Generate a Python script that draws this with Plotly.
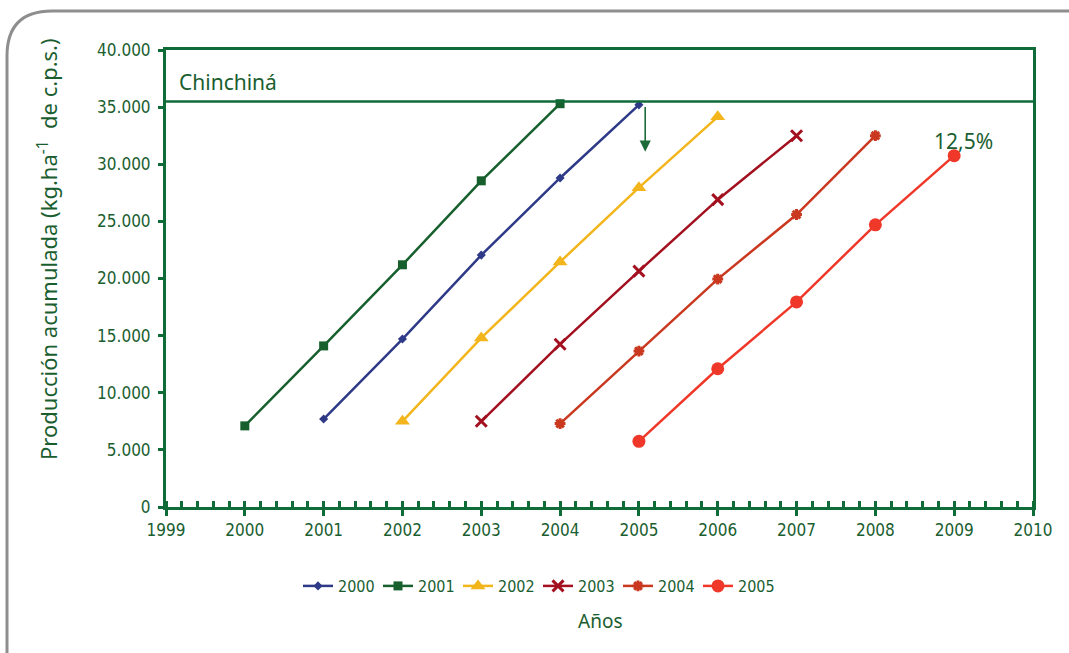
import plotly.graph_objects as go

# ---- data ----
years_x = {
    "2000": [2001, 2002, 2003, 2004, 2005],
    "2001": [2000, 2001, 2002, 2003, 2004],
    "2002": [2002, 2003, 2004, 2005, 2006],
    "2003": [2003, 2004, 2005, 2006, 2007],
    "2004": [2004, 2005, 2006, 2007, 2008],
    "2005": [2005, 2006, 2007, 2008, 2009],
}
s2000 = [7700, 14700, 22050, 28800, 35200]
s2001 = [7100, 14100, 21200, 28550, 35300]
s2002 = [7500, 14800, 21450, 27950, 34150]
s2003 = [7500, 14250, 20650, 26900, 32500]
s2004 = [7300, 13650, 19950, 25600, 32500]
s2005 = [5750, 12100, 17950, 24700, 30750]
series_names = ["2000", "2001", "2002", "2003", "2004", "2005"]
series_vals = [s2000, s2001, s2002, s2003, s2004, s2005]
chinchina_level = 35500
y_ticks = [0, 5000, 10000, 15000, 20000, 25000, 30000, 35000, 40000]
x_ticks = list(range(1999, 2011))

# ---- styles ----
colors = ["#2E3A87", "#17602E", "#F2B51B", "#A3101F", "#C9381F", "#EF3829"]
symbols = ["diamond", "square", "triangle-up", "x-thin-open", "asterisk-open", "circle"]
msizes = [7, 9, 13, 11, 9, 13]
GREEN = "#0F6B38"
TXT = "#1A5E30"
NARROW = "Liberation Sans Narrow, DejaVu Sans Condensed, Arial Narrow, sans-serif"
GEO = "Noto Sans, Lato, sans-serif"

fig = go.Figure()
for name, xs, ys, c, sym, ms in zip(series_names, [years_x[n] for n in series_names],
                                    series_vals, colors, symbols, msizes):
    mk = dict(symbol=sym, size=ms, color=c)
    if sym.endswith("-open"):
        mk["line"] = dict(color=c, width=3)
    fig.add_trace(go.Scatter(x=xs, y=ys, name=name, mode="lines+markers",
                             line=dict(color=c, width=2.5), marker=mk))

W, H = 1069, 653
L, R, T, B = 166, 36, 50, 146
pw, ph = W - L - R, H - T - B

def px(x):
    return (x - L) / pw

def py(y):
    return (H - B - y) / ph

# rounded gray frame
x0, y0 = px(7), py(11)
path = (f"M {x0},{py(700)} L {x0},{py(56)} Q {x0},{y0} {px(52)},{y0} "
        f"L {px(1080)},{y0}")
fig.add_shape(type="path", path=path, xref="paper", yref="paper",
              line=dict(color="#8E8E8E", width=3), layer="below")

# Chinchiná reference line
fig.add_shape(type="line", xref="paper", yref="y", x0=0, x1=1,
              y0=chinchina_level, y1=chinchina_level,
              line=dict(color=GREEN, width=2.5))

fig.add_annotation(text="Chinchiná", xref="paper", yref="paper",
                   x=px(177), y=py(82), xanchor="left", yanchor="middle",
                   showarrow=False, font=dict(family=GEO, size=21, color=TXT))
fig.add_annotation(text="12,5%", xref="x", yref="y", x=2008.72, y=32050,
                   xanchor="left", yanchor="middle", showarrow=False,
                   font=dict(family=GEO, size=21, color=TXT))
# arrow
fig.add_annotation(x=2005.08, y=31100, ax=2005.08, ay=35150, xref="x", yref="y",
                   axref="x", ayref="y", text="", showarrow=True,
                   arrowhead=2, arrowsize=1.4, arrowwidth=1.6, arrowcolor="#1E6B3A")

fig.add_annotation(text="Años", xref="paper", yref="paper", x=px(600), y=py(621),
                   xanchor="center", yanchor="middle", showarrow=False,
                   font=dict(family=GEO, size=19, color=TXT))
fig.add_annotation(text="Producción acumulada (kg.ha<sup>-1</sup>  de c.p.s.)",
                   xref="paper", yref="paper", x=px(47), y=py(249), textangle=-90,
                   xanchor="center", yanchor="middle", showarrow=False,
                   font=dict(family=GEO, size=22, color=TXT))

fig.update_layout(
    width=W, height=H,
    margin=dict(l=L, r=R, t=T, b=B, pad=0),
    paper_bgcolor="white", plot_bgcolor="white",
    separators=",.",
    showlegend=True,
    legend=dict(orientation="h", x=px(538), y=py(586), xanchor="center",
                yanchor="middle", entrywidth=35, entrywidthmode="pixels",
                font=dict(family=NARROW, size=16, color=TXT),
                bgcolor="rgba(0,0,0,0)"),
    xaxis=dict(range=[1999, 2010], tickvals=x_ticks, ticktext=[str(v) for v in x_ticks],
               showgrid=False, zeroline=False, showline=True, linecolor=GREEN,
               linewidth=3, mirror=True, ticks="outside", ticklen=6, tickwidth=2.5,
               tickcolor=GREEN,
               minor=dict(dtick=0.2, tick0=1999, ticks="inside", ticklen=6,
                          tickwidth=2.5, tickcolor=GREEN, showgrid=False),
               tickfont=dict(family=NARROW, size=17, color=TXT)),
    yaxis=dict(range=[0, 40000], tickvals=y_ticks, tickformat=",.0f",
               showgrid=False, zeroline=False, showline=True, linecolor=GREEN,
               linewidth=3, mirror=True, ticks="outside", ticklen=5, tickwidth=2.5,
               tickcolor=GREEN, ticklabelstandoff=4,
               tickfont=dict(family=NARROW, size=17, color=TXT)),
)

fig.write_html("out.html")
